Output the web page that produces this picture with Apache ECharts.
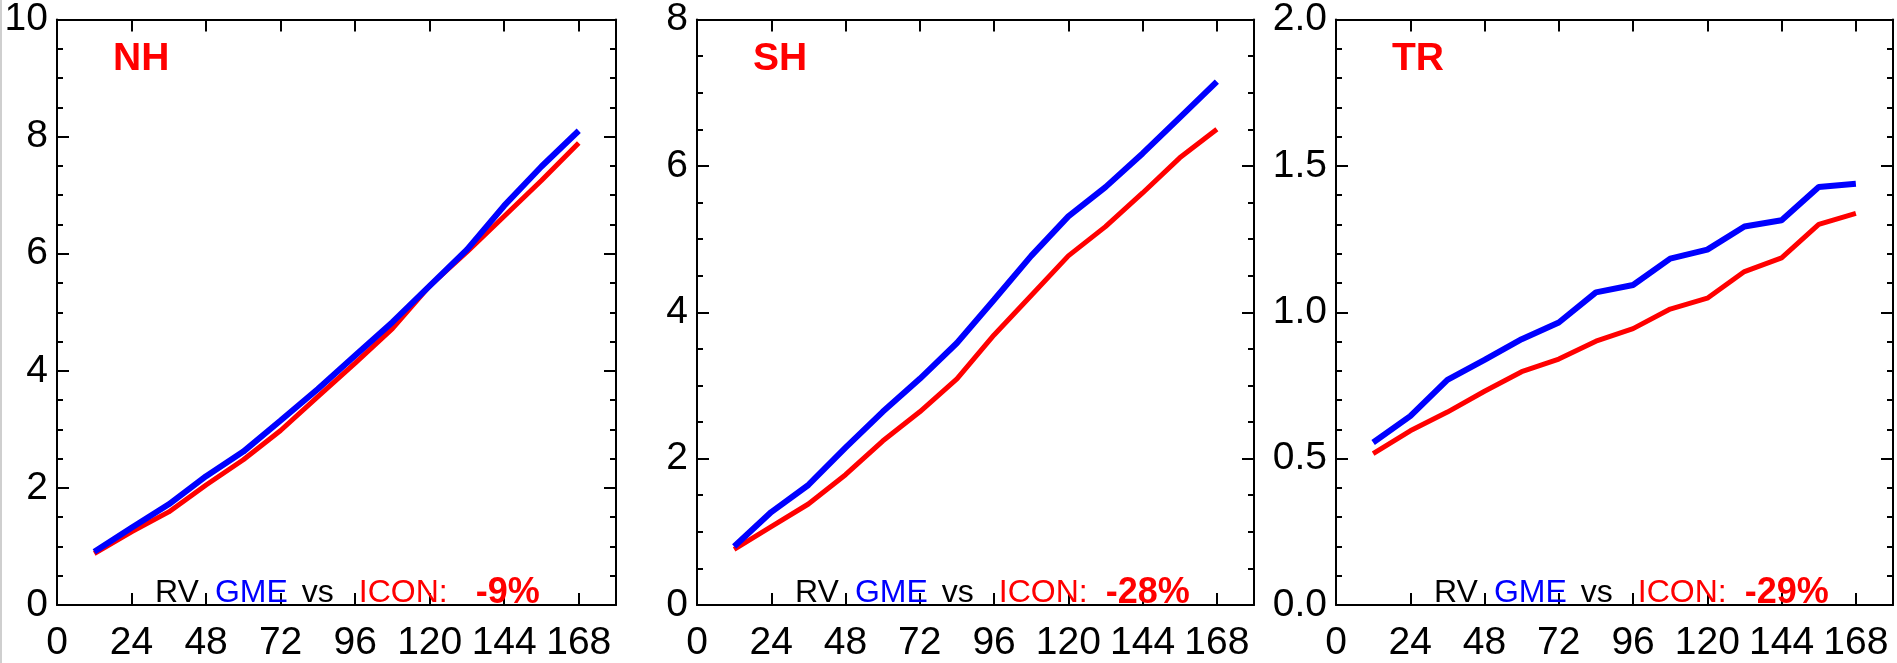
<!DOCTYPE html>
<html>
<head>
<meta charset="utf-8">
<script src="https://cdn.jsdelivr.net/npm/echarts@6/dist/echarts.min.js"></script>
<style>
html,body{margin:0;padding:0;background:#fff;}
#chart{width:1897px;height:663px;}
</style>
</head>
<body>
<div id="chart"></div>
<script>
// ---- data ----
const hours = [12, 24, 36, 48, 60, 72, 84, 96, 108, 120, 132, 144, 156, 168];
const xTicks = [0, 24, 48, 72, 96, 120, 144, 168];

const nhGME  = [0.91, 1.32, 1.72, 2.20, 2.62, 3.15, 3.69, 4.26, 4.83, 5.45, 6.07, 6.82, 7.49, 8.10];
const nhICON = [0.88, 1.25, 1.59, 2.05, 2.48, 2.98, 3.56, 4.13, 4.72, 5.45, 6.03, 6.64, 7.25, 7.89];

const shGME  = [0.80, 1.27, 1.64, 2.15, 2.64, 3.09, 3.58, 4.17, 4.77, 5.31, 5.71, 6.17, 6.66, 7.15];
const shICON = [0.76, 1.07, 1.38, 1.78, 2.24, 2.64, 3.09, 3.69, 4.23, 4.77, 5.17, 5.63, 6.11, 6.50];

const trGME  = [0.555, 0.645, 0.769, 0.837, 0.908, 0.965, 1.068, 1.093, 1.183, 1.214, 1.293, 1.314, 1.428, 1.439];
const trICON = [0.517, 0.595, 0.659, 0.730, 0.797, 0.840, 0.901, 0.944, 1.011, 1.048, 1.139, 1.186, 1.300, 1.338];

const nhTicks = [0, 2, 4, 6, 8, 10];
const shTicks = [0, 2, 4, 6, 8];
const trTicks = [0.0, 0.5, 1.0, 1.5, 2.0];

const regions = ['NH', 'SH', 'TR'];
const differences = [-9, -28, -29];   // % change RV GME vs ICON

// ---- layout / style ----
const FONT = "'Liberation Sans', Arial, Helvetica, sans-serif";
const panels = [
  { left: 57, width: 559, gme: nhGME, icon: nhICON, ticks: nhTicks, minor: 4, dec: 0 },
  { left: 697, width: 557, gme: shGME, icon: shICON, ticks: shTicks, minor: 4, dec: 0 },
  { left: 1336, width: 557, gme: trGME, icon: trICON, ticks: trTicks, minor: 5, dec: 1 }
];
const TOP = 14, HEIGHT = 594;

const grid = [], xAxis = [], yAxis = [], series = [], title = [];
const lineStyleAxis = { color: '#000', width: 2 };
const LABEL_SIZE = 39;

panels.forEach((p, i) => {
  grid.push({ left: p.left, top: TOP, width: p.width, height: HEIGHT, containLabel: false });
  const yMin = p.ticks[0], yMax = p.ticks[p.ticks.length - 1], yInt = p.ticks[1] - p.ticks[0];
  xAxis.push({
    type: 'value', gridIndex: i, position: 'bottom', min: 0, max: 180,
    axisLine: { show: true, onZero: false, lineStyle: lineStyleAxis },
    axisTick: { show: true, inside: true, length: 12, lineStyle: lineStyleAxis, customValues: xTicks },
    axisLabel: { show: true, customValues: xTicks, margin: 19, color: '#000', fontSize: LABEL_SIZE, fontFamily: FONT },
    splitLine: { show: false }
  });
  xAxis.push({
    type: 'value', gridIndex: i, position: 'top', min: 0, max: 180,
    axisLine: { show: true, onZero: false, lineStyle: lineStyleAxis },
    axisTick: { show: true, inside: true, length: 12, lineStyle: lineStyleAxis, customValues: xTicks },
    axisLabel: { show: false },
    splitLine: { show: false }
  });
  yAxis.push({
    type: 'value', gridIndex: i, position: 'left', min: yMin, max: yMax, interval: yInt,
    axisLine: { show: true, onZero: false, lineStyle: lineStyleAxis },
    axisTick: { show: true, inside: true, length: 12, lineStyle: lineStyleAxis },
    minorTick: { show: true, splitNumber: p.minor, length: 6, lineStyle: { color: '#000', width: 2 } },
    axisLabel: { show: true, margin: 9, color: '#000', fontSize: LABEL_SIZE, fontFamily: FONT,
      formatter: v => v.toFixed(p.dec) },
    splitLine: { show: false }
  });
  yAxis.push({
    type: 'value', gridIndex: i, position: 'right', min: yMin, max: yMax, interval: yInt,
    axisLine: { show: true, onZero: false, lineStyle: lineStyleAxis },
    axisTick: { show: true, inside: true, length: 12, lineStyle: lineStyleAxis },
    minorTick: { show: true, splitNumber: p.minor, length: 6, lineStyle: { color: '#000', width: 2 } },
    axisLabel: { show: false },
    splitLine: { show: false }
  });
  series.push({
    type: 'line', xAxisIndex: 2 * i, yAxisIndex: 2 * i, showSymbol: false, symbol: 'none',
    data: hours.map((h, k) => [h, p.icon[k]]),
    lineStyle: { color: '#ff0000', width: 5 }, z: 2
  });
  series.push({
    type: 'line', xAxisIndex: 2 * i, yAxisIndex: 2 * i, showSymbol: false, symbol: 'none',
    data: hours.map((h, k) => [h, p.gme[k]]),
    lineStyle: { color: '#0000ff', width: 6 }, z: 3
  });
  title.push({
    text: regions[i], left: p.left + 56, top: 40, padding: 0,
    textStyle: { color: '#ff0000', fontSize: 39, fontWeight: 'bold', fontFamily: FONT }
  });
  const pct = String(differences[i]).padStart(3, ' ') + '%';
  const base = { fontSize: 32, fontWeight: 'normal', fontFamily: FONT, lineHeight: 38 };
  title.push({
    text: '{k|RV}{b|GME}{v|vs}{r|ICON:}{p|' + pct + '}',
    left: p.left + 98, top: 574, padding: 0,
    textStyle: {
      rich: {
        k: Object.assign({ color: '#000' }, base),
        b: Object.assign({ color: '#0000ff', padding: [0, 0, 0, 16] }, base),
        v: Object.assign({ color: '#000', padding: [0, 0, 0, 14] }, base),
        r: Object.assign({ color: '#ff0000', padding: [0, 0, 0, 25] }, base),
        p: { color: '#ff0000', fontSize: 36, fontWeight: 'bold', fontFamily: FONT, lineHeight: 38, padding: [0, 0, 0, 18] }
      }
    }
  });
});

const chart = echarts.init(document.getElementById('chart'), null, { renderer: 'canvas' });
chart.setOption({
  animation: false,
  backgroundColor: '#fff',
  title, grid, xAxis, yAxis, series,
  graphic: [{
    type: 'line', shape: { x1: 1, y1: 0, x2: 1, y2: 663 },
    style: { stroke: '#cfcfcf', lineWidth: 2 }, silent: true
  }]
});
</script>
</body>
</html>
